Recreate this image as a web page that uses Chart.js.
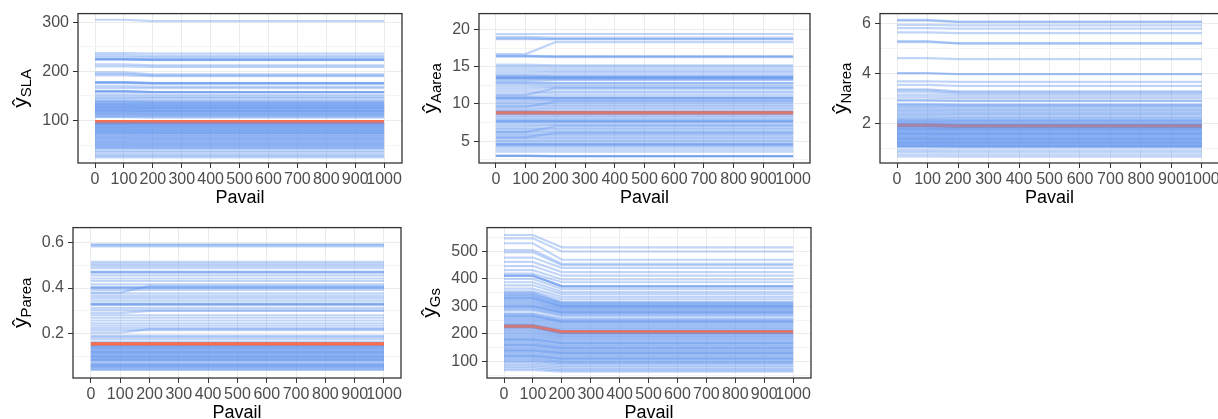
<!DOCTYPE html>
<html>
<head>
<meta charset="utf-8">
<script src="https://cdn.jsdelivr.net/npm/chart.js@4.4.1/dist/chart.umd.min.js"></script>
<style>
  html, body { margin: 0; padding: 0; background: #fff; overflow: hidden; }
  body { width: 1218px; height: 419px; position: relative; }
  canvas { position: absolute; }
</style>
</head>
<body>
<canvas id="c1"></canvas>
<canvas id="c2"></canvas>
<canvas id="c3"></canvas>
<canvas id="c4"></canvas>
<canvas id="c5"></canvas>
<script>
// DATA
// x grid (Pavail) and its tick labels
const pavail = [0, 100, 200, 300, 400, 500, 600, 700, 800, 900, 1000];

// each ICE curve: [yhat at Pavail <= 100, yhat at Pavail >= 200]
const slaCurves = [
  [305,302],[237,236],[233,231],[229,228],[225,224],[225,223],[224,224],[225,224],[214,212],[210,209],
  [198,194],[195,192],[192,190],[178,176],[177,176],[176,175],[178,176],[170,169],[166,166],[160,158],
  [159,158],[158,157],[160,158],[153,152],[149,148],[146,146],[143,142],
  [140,139],[139,138],[137,136],[136,135],[134,134],[133,132],[131,131],[130,129],[128,128],
  [127,126],[125,125],[124,123],[122,122],[121,120],[119,119],[118,117],[116,116],[115,114],
  [113,113],[112,111],[110,110],[108,108],[107,106],[120,119],[126,125],[131,130],
  [95,95],[93,93],[92,91],[90,90],[89,88],[87,87],[85,85],[84,83],[82,82],[81,80],[79,79],
  [77,77],[76,75],[74,74],[72,72],[71,70],[69,69],[67,67],[66,65],[64,64],[62,62],[61,60],
  [59,59],[57,57],[56,55],[54,54],[52,52],[51,50],[49,49],[47,47],[46,45],[44,44],[42,42],
  [75,75],[80,80],[86,86],[91,91],
  [38,38],[35,35],[31,31],[28,28],[25,25]
];
const slaMean = [97, 97];

const aareaCurves = [
  [19.4,19.4],[19.0,18.9],[18.8,18.7],[18.7,18.7],[16.7,18.3],[16.5,16.4],[16.4,16.3],[16.4,16.4],
  [15.3,15.2],[15.1,15.0],[14.8,14.7],[14.5,14.4],[14.2,14.2],[13.9,13.9],[13.8,13.7],[13.6,13.6],
  [13.5,13.5],[13.4,13.4],[13.3,13.3],[13.1,13.2],[13.6,13.6],[13.5,13.5],[12.9,12.8],[12.8,12.8],
  [12.6,12.5],[12.3,12.3],[12.0,12.1],[11.2,12.1],[11.7,11.7],[11.4,11.5],[11.1,11.2],[10.9,10.9],
  [10.8,10.8],[10.7,10.7],[10.8,10.8],[10.5,10.5],[10.3,10.4],[9.6,10.3],[10.1,10.1],[9.9,9.9],
  [9.7,9.7],[9.4,9.5],[9.2,9.3],[9.0,9.0],
  [8.6,8.6],[8.4,8.4],[8.2,8.2],[8.0,8.0],[7.8,7.8],[7.7,7.7],[7.6,7.6],[7.7,7.7],[7.4,7.4],[7.2,7.2],
  [7.0,7.1],[6.2,7.0],[6.8,6.8],[6.6,6.6],[6.4,6.4],[6.2,6.2],[6.0,6.0],[5.8,5.8],[5.5,6.1],
  [5.6,5.6],[5.4,5.4],[5.2,5.2],[5.0,5.0],[4.8,4.8],[4.6,4.6],[4.5,4.5],[4.6,4.6],[4.4,4.4],[4.2,4.2],
  [3.9,3.9],[3.6,3.6],[3.1,3.0],[3.0,3.0],[3.0,2.9],[3.0,3.0]
];
const aareaMean = [8.8, 8.8];

const nareaCurves = [
  [6.15,6.08],[6.12,6.06],[5.95,5.93],[5.82,5.8],[5.65,5.62],[5.3,5.2],[5.26,5.22],
  [4.62,4.58],[4.03,3.99],[4.01,3.98],[3.7,3.68],[3.56,3.52],[3.38,3.3],[3.34,3.26],[3.26,3.2],
  [3.15,3.12],[3.06,3.03],[2.95,2.93],[2.93,2.91],[2.8,2.78],[2.77,2.76],[2.73,2.72],[2.68,2.67],
  [2.62,2.61],[2.57,2.56],[2.52,2.5],[2.46,2.45],[2.41,2.4],[2.36,2.35],[2.3,2.28],[2.25,2.24],
  [2.2,2.18],[2.16,2.15],[2.13,2.12],[2.1,2.09],[2.07,2.06],[2.04,2.02],[2.0,1.99],[1.97,1.96],
  [1.9,1.89],[1.87,1.86],[1.84,1.83],[1.81,1.8],[1.78,1.77],[1.75,1.74],[1.72,1.71],[1.69,1.68],
  [1.66,1.65],[1.63,1.62],[1.6,1.59],[1.57,1.56],[1.54,1.53],[1.51,1.5],[1.48,1.47],[1.45,1.44],
  [1.42,1.41],[1.39,1.38],[1.36,1.35],[1.33,1.32],[1.3,1.29],[1.27,1.26],[1.24,1.23],[1.21,1.2],
  [1.18,1.17],[1.15,1.14],[1.12,1.11],[1.09,1.08],[1.06,1.05],
  [1.8,1.79],[1.6,1.6],[1.4,1.4],[1.25,1.25],[1.12,1.12],
  [0.95,0.94],[0.87,0.86],[0.78,0.77],[0.7,0.69]
];
const nareaMean = [1.95, 1.92];

const pareaCurves = [
  [0.592,0.592],[0.588,0.588],[0.583,0.583],[0.515,0.515],[0.506,0.506],[0.497,0.497],
  [0.487,0.487],[0.472,0.472],[0.468,0.468],[0.47,0.47],[0.456,0.456],[0.442,0.442],[0.431,0.431],
  [0.416,0.416],[0.404,0.404],[0.4,0.4],[0.402,0.402],[0.38,0.41],[0.392,0.392],[0.377,0.377],
  [0.366,0.366],[0.356,0.356],[0.345,0.345],[0.333,0.333],[0.329,0.329],[0.325,0.325],[0.33,0.33],
  [0.312,0.312],[0.302,0.302],[0.29,0.3],[0.281,0.281],[0.27,0.27],[0.258,0.258],[0.246,0.246],
  [0.236,0.236],[0.226,0.226],[0.216,0.216],[0.205,0.22],[0.192,0.192],[0.186,0.186],[0.177,0.177],
  [0.166,0.166],
  [0.146,0.146],[0.143,0.143],[0.139,0.139],[0.136,0.136],[0.132,0.132],[0.129,0.129],
  [0.125,0.125],[0.122,0.122],[0.118,0.118],[0.115,0.115],[0.111,0.111],[0.108,0.108],
  [0.104,0.104],[0.101,0.101],[0.097,0.097],[0.094,0.094],[0.09,0.09],[0.087,0.087],
  [0.083,0.083],[0.08,0.08],[0.072,0.072],[0.069,0.069],[0.065,0.065],[0.062,0.062],
  [0.058,0.058],[0.055,0.055],[0.051,0.051],[0.048,0.048],[0.044,0.044],[0.041,0.041],
  [0.14,0.14],[0.12,0.12],[0.1,0.1],[0.085,0.085],[0.06,0.06]
];
const pareaMean = [0.155, 0.155];

const gsCurves = [
  [560,515],[548,500],[530,470],[505,455],[497,450],[478,440],[462,425],[447,412],[432,398],
  [420,388],[412,373],[411,373],[412,374],[400,364],[388,353],[377,345],[365,335],[355,326],
  [350,316],[347,314],[343,311],[340,308],[337,305],[333,302],[329,300],[325,297],[321,294],
  [317,291],[313,288],[309,285],[305,282],[301,279],[297,276],[293,272],[289,268],[285,264],
  [275,256],[272,252],[268,248],[264,245],[265,245],[260,242],[256,238],[252,234],[248,230],[244,226],
  [240,222],[236,218],[232,215],[222,203],[218,200],[214,197],[210,193],[206,190],[202,187],
  [198,183],[194,180],[190,176],[186,172],[182,168],[178,165],[174,161],[170,157],[166,154],
  [162,150],[158,146],[154,142],[150,138],[146,135],[142,131],[138,128],[134,124],[130,120],
  [126,116],[122,112],[118,108],[114,104],[110,100],[106,97],[102,94],[98,90],
  [330,300],[300,278],[180,166],[160,148],[140,130],[120,110],
  [92,84],[86,78],[80,72],[74,67],[68,63]
];
const gsMean = [228, 207];

// y tick labels (major) and minor grid positions
const slaTicks = [100, 200, 300],        slaMinor = [50, 150, 250];
const aareaTicks = [5, 10, 15, 20],       aareaMinor = [2.5, 7.5, 12.5, 17.5];
const nareaTicks = [2, 4, 6],             nareaMinor = [1, 3, 5];
const pareaTicks = [0.2, 0.4, 0.6],       pareaMinor = [0.1, 0.3, 0.5];
const gsTicks = [100, 200, 300, 400, 500], gsMinor = [50, 150, 250, 350, 450, 550];

// STYLE / LAYOUT
const FONT = '"Liberation Sans", Arial, Helvetica, sans-serif';
const iceColor = 'rgba(100, 149, 237, 0.4)';
const meanColor = '#fa6e4b';

const panels = [
  { id: 'c1', cv: {x: 0, y: 0, w: 406, h: 214}, box: {l: 78, t: 12, r: 402, b: 163},
    xr: [-59, 1062], yr: [13.5, 317.5], curves: slaCurves, mean: slaMean,
    ticks: slaTicks, minor: slaMinor, sub: 'SLA' },
  { id: 'c2', cv: {x: 406, y: 0, w: 408, h: 214}, box: {l: 479, t: 12, r: 810, b: 163},
    xr: [-57, 1057], yr: [2.06, 22.14], curves: aareaCurves, mean: aareaMean,
    ticks: aareaTicks, minor: aareaMinor, sub: 'Aarea' },
  { id: 'c3', cv: {x: 814, y: 0, w: 410, h: 214}, box: {l: 880, t: 12, r: 1219, b: 163},
    xr: [-56, 1056], yr: [0.44, 6.4], curves: nareaCurves, mean: nareaMean,
    ticks: nareaTicks, minor: nareaMinor, sub: 'Narea' },
  { id: 'c4', cv: {x: 0, y: 214, w: 406, h: 205}, box: {l: 73, t: 227, r: 401, b: 378},
    xr: [-61, 1058], yr: [0.006, 0.665], curves: pareaCurves, mean: pareaMean,
    ticks: pareaTicks, minor: pareaMinor, sub: 'Parea' },
  { id: 'c5', cv: {x: 406, y: 214, w: 408, h: 205}, box: {l: 487, t: 227, r: 811, b: 378},
    xr: [-59, 1062], yr: [39.5, 587], curves: gsCurves, mean: gsMean,
    ticks: gsTicks, minor: gsMinor, sub: 'Gs' }
];

// curve [before, after] -> points on the Pavail grid
const toPoints = (pair) => pavail.map(p => ({ x: p, y: p <= 100 ? pair[0] : pair[1] }));

// frame + axis titles (yhat with subscript)
const framePlugin = {
  id: 'frame',
  afterDraw(chart, args, opts) {
    const { ctx, chartArea: a } = chart;
    ctx.save();
    ctx.strokeStyle = '#333333';
    ctx.lineWidth = 1.3;
    ctx.strokeRect(a.left, a.top, a.right - a.left, a.bottom - a.top);

    ctx.fillStyle = '#000';
    ctx.font = '18px ' + FONT;
    ctx.textAlign = 'center';
    ctx.textBaseline = 'alphabetic';
    ctx.fillText('Pavail', (a.left + a.right) / 2, a.bottom + 40);

    ctx.font = '16px ' + FONT;
    const labelW = Math.max(...opts.ticks.map(v => ctx.measureText(String(v)).width));
    const cx = a.left - 10 - labelW - 20;
    const cy = (a.top + a.bottom) / 2;
    ctx.translate(cx, cy);
    ctx.rotate(-Math.PI / 2);
    ctx.textAlign = 'left';
    ctx.textBaseline = 'middle';
    ctx.font = '21px ' + FONT;
    const w1 = ctx.measureText('ŷ').width;
    ctx.font = '15px ' + FONT;
    const w2 = ctx.measureText(opts.sub).width;
    const x0 = -(w1 + w2) / 2;
    ctx.font = '21px ' + FONT;
    ctx.fillText('ŷ', x0, 0);
    ctx.font = '15px ' + FONT;
    ctx.fillText(opts.sub, x0 + w1, 6);
    ctx.restore();
  }
};

panels.forEach(p => {
  const canvas = document.getElementById(p.id);
  canvas.width = p.cv.w;
  canvas.height = p.cv.h;
  canvas.style.left = p.cv.x + 'px';
  canvas.style.top = p.cv.y + 'px';

  const yAxisW = p.box.l - p.cv.x;
  const padTop = p.box.t - p.cv.y;
  const padRight = p.cv.w - (p.box.r - p.cv.x);
  const xAxisH = p.cv.h - (p.box.b - p.cv.y);
  const yAll = [...p.ticks, ...p.minor].sort((a, b) => a - b);
  const isMajor = v => p.ticks.includes(v);

  const datasets = p.curves.map(c => ({
    data: toPoints(c),
    borderColor: iceColor,
    borderWidth: 2.2,
    pointRadius: 0
  }));
  datasets.push({ data: toPoints(p.mean), borderColor: meanColor, borderWidth: 4, pointRadius: 0 });

  new Chart(canvas, {
    type: 'line',
    data: { datasets },
    options: {
      responsive: false,
      animation: false,
      events: [],
      parsing: false,
      layout: { autoPadding: false, padding: { top: padTop, right: padRight, left: 0, bottom: 0 } },
      plugins: { legend: { display: false }, tooltip: { enabled: false }, frame: { ticks: p.ticks, sub: p.sub } },
      elements: { line: { tension: 0, borderCapStyle: 'butt' } },
      scales: {
        x: {
          type: 'linear',
          min: p.xr[0], max: p.xr[1],
          afterBuildTicks: s => { s.ticks = pavail.map(v => ({ value: v })); },
          afterFit: s => { s.height = xAxisH; },
          border: { display: false },
          grid: { color: '#ebebeb', lineWidth: 1, tickColor: '#333333', tickLength: 5 },
          ticks: { autoSkip: false, maxRotation: 0, minRotation: 0, padding: 2,
                   color: '#4d4d4d', font: { size: 16, family: FONT },
                   callback: v => String(v) }
        },
        y: {
          type: 'linear',
          min: p.yr[0], max: p.yr[1],
          afterBuildTicks: s => { s.ticks = yAll.map(v => ({ value: v })); },
          afterFit: s => { s.width = yAxisW; },
          border: { display: false },
          grid: {
            color: c => isMajor(c.tick.value) ? '#ebebeb' : '#f4f4f4',
            tickColor: c => isMajor(c.tick.value) ? '#333333' : 'rgba(0,0,0,0)',
            lineWidth: 1, tickLength: 5
          },
          ticks: { autoSkip: false, padding: 4, color: '#4d4d4d', font: { size: 16, family: FONT },
                   callback: v => isMajor(v) ? String(v) : '' }
        }
      }
    },
    plugins: [framePlugin]
  });
});
</script>
</body>
</html>
